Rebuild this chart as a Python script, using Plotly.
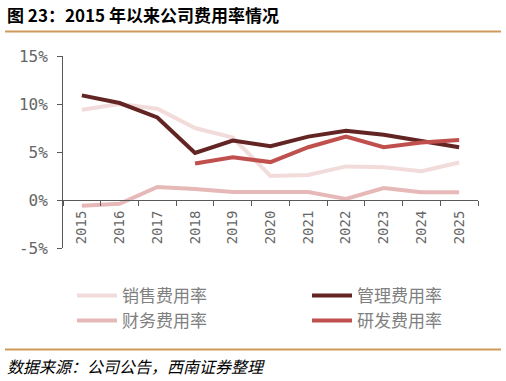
import plotly.graph_objects as go

years = ["2015", "2016", "2017", "2018", "2019", "2020", "2021", "2022", "2023", "2024", "2025"]
sales_rate = [9.4, 10.0, 9.5, 7.5, 6.5, 2.5, 2.6, 3.5, 3.4, 3.0, 3.9]
mgmt_rate = [10.9, 10.1, 8.6, 4.9, 6.2, 5.6, 6.6, 7.2, 6.8, 6.15, 5.5]
fin_rate = [-0.6, -0.4, 1.35, 1.15, 0.83, 0.83, 0.83, 0.1, 1.25, 0.8, 0.8]
rd_rate = [None, None, None, 3.8, 4.45, 3.95, 5.5, 6.6, 5.5, 6.0, 6.25]
y_ticks = [-5, 0, 5, 10, 15]
y_ticktext = ["-5%", "0%", "5%", "10%", "15%"]

W, H = 506, 381
L, R, T, B = 63, 28, 56, 133


def px_x(x):
    return (x - L) / (W - L - R)


def px_y(y):
    return 1 - (y - T) / (H - T - B)


fig = go.Figure()
series = [
    ("销售费用率", sales_rate, "#f2dcdb", "legend", 72, 296),
    ("管理费用率", mgmt_rate, "#632523", "legend2", 307, 296),
    ("财务费用率", fin_rate, "#e6b9b8", "legend3", 72, 321),
    ("研发费用率", rd_rate, "#c0504d", "legend4", 307, 321),
]
legend_font = dict(family="Noto Sans CJK SC", size=17, color="#808080")
legends = {}
for name, vals, col, lg, lx, ly in series:
    fig.add_trace(go.Scatter(x=years, y=vals, name=name, mode="lines",
                             line=dict(color=col, width=4), legend=lg))
    legends[lg] = dict(x=px_x(lx), y=px_y(ly), xanchor="left", yanchor="middle",
                       orientation="v", font=legend_font, bgcolor="rgba(0,0,0,0)",
                       itemwidth=40)

fig.update_layout(
    width=W, height=H,
    margin=dict(l=L, r=R, t=T, b=B, autoexpand=False),
    plot_bgcolor="white", paper_bgcolor="white",
    showlegend=True,
    xaxis=dict(type="category", range=[-0.5, 10.5], tickson="boundaries",
               ticks="outside", ticklen=5, tickcolor="#595959",
               showline=True, linecolor="#595959", linewidth=1,
               showgrid=False, zeroline=False, tickangle=-90,
               ticklabelstandoff=4,
               tickfont=dict(family="DejaVu Sans Mono", size=14, color="#666666"),
               anchor="free", position=0.25),
    yaxis=dict(range=[-5, 15], tickvals=y_ticks, ticktext=y_ticktext,
               ticks="outside", ticklen=5, tickcolor="#595959",
               showline=True, linecolor="#595959", linewidth=1,
               showgrid=False, zeroline=False, ticklabelstandoff=6,
               tickfont=dict(family="DejaVu Sans Mono", size=16, color="#666666")),
    **legends,
)

fig.add_annotation(text="<b>图 23：2015 年以来公司费用率情况</b>", xref="paper", yref="paper",
                   x=px_x(5), y=px_y(15), xanchor="left", yanchor="middle",
                   showarrow=False,
                   font=dict(family="Noto Sans CJK SC", size=17, color="#000000"))
fig.add_annotation(text="<i>数据来源：公司公告，西南证券整理</i>", xref="paper", yref="paper",
                   x=px_x(5), y=px_y(366), xanchor="left", yanchor="middle",
                   showarrow=False,
                   font=dict(family="Noto Sans CJK SC", size=16, color="#000000"))
for yy in (31.5, 349.5):
    fig.add_shape(type="line", xref="paper", yref="paper",
                  x0=px_x(5), x1=px_x(501), y0=px_y(yy), y1=px_y(yy),
                  line=dict(color="#d09a5a", width=2))

fig.write_html("out.html")
